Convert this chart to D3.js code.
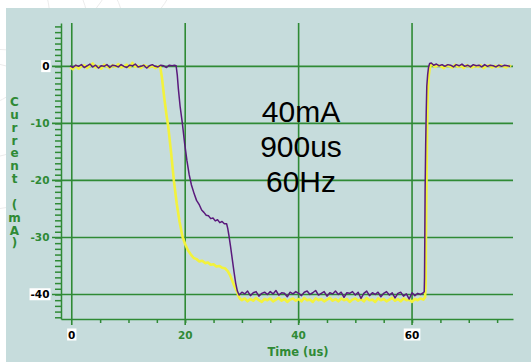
<!DOCTYPE html>
<html>
<head>
<meta charset="utf-8">
<script src="https://cdn.jsdelivr.net/npm/d3@7"></script>
<style>
  body { margin: 0; background: #ffffff; }
  svg { display: block; }
</style>
</head>
<body>
<svg id="chart" width="531" height="362"></svg>
<script>
// ---- chart values ----
const xMajorTicks = [0, 20, 40, 60];
const yMajorTicks = [0, -10, -20, -30, -40];
const xBoxedLabels = [0, 60];     // tick labels printed black on a white box
const yBoxedLabels = [0, -40];
const annotationLines = ["40mA", "900us", "60Hz"];
const yTitle = "Current (mA)";
const xTitle = "Time (us)";

// Channel traces, [time in us, current in mA]
const yellowTrace = [
  [-0.3,-0.2],[0.2,-0.5],[0.7,0.1],[1.2,-0.4],[1.7,0.0],[2.2,0.2],[2.7,-0.3],[3.2,0.1],[3.7,0.5],[4.2,-0.2],
  [4.7,0.0],[5.2,-0.4],[5.7,0.3],[6.2,0.0],[6.7,-0.3],[7.2,0.2],[7.7,-0.1],[8.2,0.4],[8.7,-0.2],[9.2,0.0],
  [9.7,0.3],[10.2,-0.2],[10.7,0.6],[11.2,-0.1],[11.7,0.1],[12.2,-0.3],[12.7,0.2],[13.2,0.0],[13.7,-0.2],[14.2,0.1],
  [14.7,-0.3],[15.2,0.0],[15.6,-0.1],
  [15.9,-2.0],[16.3,-5.5],[16.7,-8.5],[17.0,-10.5],[17.5,-15.0],[18.0,-20.0],[18.5,-24.0],[19.0,-27.2],[19.5,-29.8],
  [20.0,-31.2],[20.5,-32.3],[21.0,-33.0],[21.5,-33.6],[22.0,-33.8],[22.5,-34.2],[23.0,-34.1],[23.5,-34.5],[24.0,-34.4],
  [24.5,-34.8],[25.0,-34.7],[25.5,-35.1],[26.0,-35.0],[26.5,-35.3],[27.0,-35.4],[27.5,-35.9],[27.9,-36.6],[28.3,-37.6],
  [28.7,-38.6],[29.1,-39.4],[29.4,-40.3],[29.7,-40.8],
  [30.0,-41.0],[30.5,-40.7],[31.0,-41.2],[31.5,-40.8],[32.0,-41.1],[32.5,-40.6],[33.0,-41.0],[33.5,-41.3],[34.0,-40.8],
  [34.5,-41.0],[35.0,-40.7],[35.5,-41.2],[36.0,-40.9],[36.5,-40.6],[37.0,-41.1],[37.5,-40.8],[38.0,-41.3],[38.5,-40.9],
  [39.0,-40.7],[39.5,-41.1],[40.0,-40.8],[40.5,-41.2],[41.0,-40.6],[41.5,-41.0],[42.0,-40.9],[42.5,-41.3],[43.0,-40.7],
  [43.5,-41.0],[44.0,-40.8],[44.5,-41.2],[45.0,-40.9],[45.5,-40.6],[46.0,-41.1],[46.5,-40.8],[47.0,-41.2],[47.5,-40.7],
  [48.0,-41.0],[48.5,-40.8],[49.0,-41.3],[49.5,-40.9],[50.0,-40.7],[50.5,-41.1],[51.0,-40.8],[51.5,-41.2],[52.0,-40.6],
  [52.5,-41.0],[53.0,-40.9],[53.5,-41.3],[54.0,-40.7],[54.5,-41.0],[55.0,-40.8],[55.5,-41.2],[56.0,-40.9],[56.5,-40.6],
  [57.0,-41.1],[57.5,-40.8],[58.0,-41.2],[58.5,-40.7],[59.0,-41.0],[59.5,-40.9],[60.0,-41.3],[60.5,-40.8],[61.0,-41.0],
  [61.5,-40.7],[62.0,-40.9],
  [62.3,-40.5],[62.4,-38.0],[62.45,-30.0],[62.55,-20.0],[62.65,-11.0],[62.75,-5.0],[62.9,-2.0],[63.1,-0.5],[63.3,0.2],
  [63.6,0.3],[64.1,-0.1],[64.6,0.2],[65.1,0.0],[65.6,-0.3],[66.1,0.2],[66.6,0.0],[67.1,-0.2],[67.6,0.3],[68.1,-0.1],
  [68.6,0.1],[69.1,-0.3],[69.6,0.2],[70.1,0.0],[70.6,-0.2],[71.1,0.1],[71.6,-0.1],[72.1,0.2],[72.6,-0.3],[73.1,0.0],
  [73.6,0.2],[74.1,-0.2],[74.6,0.1],[75.1,-0.1],[75.6,0.2],[76.1,0.0],[76.6,-0.2],[77.1,0.1],[77.5,0.0]
];

const purpleTrace = [
  [-0.3,0.1],[0.2,-0.2],[0.7,0.2],[1.2,0.0],[1.7,0.3],[2.2,-0.2],[2.7,0.1],[3.2,0.4],[3.7,-0.1],[4.2,0.2],
  [4.7,-0.3],[5.2,0.1],[5.7,0.0],[6.2,0.3],[6.7,-0.2],[7.2,0.2],[7.7,0.1],[8.2,-0.1],[8.7,0.3],[9.2,0.0],
  [9.7,-0.2],[10.2,0.2],[10.7,0.1],[11.2,0.4],[11.7,-0.1],[12.2,0.0],[12.7,0.2],[13.2,-0.3],[13.7,0.1],[14.2,0.3],
  [14.7,0.0],[15.2,-0.1],[15.7,0.2],[16.2,0.1],[16.7,-0.2],[17.2,0.2],[17.7,0.1],[18.1,0.2],
  [18.4,0.1],[18.6,-1.5],[18.8,-4.0],[19.1,-7.0],[19.5,-10.0],[19.9,-13.5],[20.3,-16.5],[20.7,-19.0],[21.1,-20.8],
  [21.6,-22.4],[22.0,-23.5],[22.5,-24.3],[22.9,-25.2],[23.3,-25.6],[23.7,-26.1],[24.1,-26.2],[24.5,-26.7],[24.9,-26.6],
  [25.3,-27.1],[25.7,-26.9],[26.1,-27.4],[26.5,-27.2],[26.9,-27.6],[27.3,-27.6],[27.5,-28.4],[27.7,-29.6],[28.0,-31.6],
  [28.3,-33.8],[28.6,-36.0],[28.9,-38.0],[29.2,-39.4],[29.5,-40.1],
  [30.0,-39.6],[30.5,-39.9],[31.0,-39.4],[31.5,-40.2],[32.0,-39.7],[32.5,-39.5],[33.0,-40.3],[33.5,-39.8],[34.0,-39.6],
  [34.5,-40.0],[35.0,-39.5],[35.5,-39.9],[36.0,-39.3],[36.5,-40.1],[37.0,-39.7],[37.5,-39.8],[38.0,-40.4],[38.5,-39.6],
  [39.0,-39.9],[39.5,-39.5],[40.0,-39.8],[40.5,-40.2],[41.0,-39.6],[41.5,-39.4],[42.0,-40.0],[42.5,-39.7],[43.0,-39.3],
  [43.5,-40.1],[44.0,-39.8],[44.5,-39.5],[45.0,-40.3],[45.5,-39.7],[46.0,-39.9],[46.5,-39.4],[47.0,-40.0],[47.5,-39.6],
  [48.0,-40.5],[48.5,-39.7],[49.0,-39.8],[49.5,-39.5],[50.0,-40.1],[50.5,-39.6],[51.0,-40.7],[51.5,-39.8],[52.0,-39.4],
  [52.5,-40.2],[53.0,-39.7],[53.5,-40.0],[54.0,-39.6],[54.5,-40.4],[55.0,-39.8],[55.5,-39.5],[56.0,-40.1],[56.5,-39.7],
  [57.0,-40.6],[57.5,-39.8],[58.0,-39.6],[58.5,-40.3],[59.0,-39.9],[59.5,-40.8],[60.0,-39.7],[60.5,-40.2],[61.0,-39.8],
  [61.5,-40.0],[62.0,-39.7],
  [62.15,-39.5],[62.2,-37.0],[62.25,-30.0],[62.3,-22.0],[62.4,-14.0],[62.5,-8.0],[62.6,-3.5],[62.75,-1.5],[62.9,-0.2],
  [63.1,0.5],[63.4,0.6],
  [63.8,0.2],[64.3,0.4],[64.8,0.1],[65.3,0.3],[65.8,0.0],[66.3,0.3],[66.8,0.2],[67.3,-0.1],[67.8,0.3],[68.3,0.1],
  [68.8,0.4],[69.3,0.0],[69.8,0.2],[70.3,-0.1],[70.8,0.3],[71.3,0.1],[71.8,0.2],[72.3,-0.1],[72.8,0.3],[73.3,0.0],
  [73.8,0.2],[74.3,0.1],[74.8,-0.1],[75.3,0.2],[75.8,0.0],[76.3,0.2],[76.8,0.1],[77.3,0.0]
];

// ---- drawing ----
const W = 531, H = 362;
const GREEN = "#2f8a35";
const svg = d3.select("#chart");

// faint background swirls on the page
const swirl = svg.append("g").attr("fill", "none").attr("stroke", "#ececec").attr("stroke-width", 1);
[[-40, 20, 90], [-30, 40, 120], [-20, 60, 150], [10, -60, 110], [40, -80, 150]].forEach(([cx, cy, r]) => {
  swirl.append("circle").attr("cx", cx).attr("cy", cy).attr("r", r);
});

// instrument panel
svg.append("rect").attr("x", 6).attr("y", 8).attr("width", W - 6).attr("height", H - 8).attr("fill", "#c6dcdc");

const x = d3.scaleLinear().domain([-1.9, 77.8]).range([61, 513]);
const y = d3.scaleLinear().domain([-44.3, 7.6]).range([319, 23]);

// minor ticks + axis lines
const yAxis = d3.axisLeft(y).tickValues(d3.range(-44, 8)).tickSize(6).tickSizeOuter(0).tickFormat("");
const xAxis = d3.axisBottom(x).tickValues(d3.range(5, 78, 5)).tickSize(4).tickSizeOuter(0).tickFormat("");

const gy = svg.append("g").attr("transform", `translate(${x.range()[0]},0)`).call(yAxis);
const gx = svg.append("g").attr("transform", `translate(0,${y.range()[0]})`).call(xAxis);
[gy, gx].forEach(g => {
  g.selectAll("path, line").attr("stroke", GREEN).attr("stroke-width", 1.5);
});

// grid lines
const grid = svg.append("g").attr("stroke", GREEN).attr("stroke-width", 1.6);
grid.selectAll("line.h").data(yMajorTicks).join("line")
  .attr("x1", x.range()[0] - 9).attr("x2", x.range()[1])
  .attr("y1", d => y(d)).attr("y2", d => y(d));
grid.selectAll("line.v").data(xMajorTicks).join("line")
  .attr("x1", d => x(d)).attr("x2", d => x(d))
  .attr("y1", y.range()[1]).attr("y2", y.range()[0] + 6);

// traces
const line = d3.line().x(d => x(d[0])).y(d => y(d[1]));
svg.append("path").datum(yellowTrace).attr("d", line)
  .attr("fill", "none").attr("stroke", "#f2f23c").attr("stroke-width", 2.6).attr("stroke-linejoin", "round");
svg.append("path").datum(purpleTrace).attr("d", line)
  .attr("fill", "none").attr("stroke", "#5a1a7c").attr("stroke-width", 1.5).attr("stroke-linejoin", "round");

// tick labels
const labelFont = "'DejaVu Sans', Verdana, sans-serif";
function boxedLabel(g, boxed) {
  if (!boxed) return;
  const bb = g.select("text").node().getBBox();
  g.insert("rect", "text").attr("x", bb.x - 1).attr("y", bb.y).attr("width", bb.width + 2).attr("height", bb.height)
    .attr("fill", "#ffffff");
}
yMajorTicks.forEach(v => {
  const boxed = yBoxedLabels.includes(v);
  const g = svg.append("g");
  g.append("text").attr("x", 49.5).attr("y", y(v)).attr("dy", "0.36em")
    .attr("text-anchor", "end").attr("font-family", labelFont).attr("font-weight", "bold")
    .attr("font-size", 10.5).attr("fill", boxed ? "#000" : GREEN).text(v);
  boxedLabel(g, boxed);
});
xMajorTicks.forEach(v => {
  const boxed = xBoxedLabels.includes(v);
  const g = svg.append("g");
  g.append("text").attr("x", x(v)).attr("y", 338.5)
    .attr("text-anchor", "middle").attr("font-family", labelFont).attr("font-weight", "bold")
    .attr("font-size", 10.5).attr("fill", boxed ? "#000" : GREEN).text(v);
  boxedLabel(g, boxed);
});

// axis titles
svg.append("text").attr("x", 298).attr("y", 356).attr("text-anchor", "middle")
  .attr("font-family", labelFont).attr("font-weight", "bold").attr("font-size", 11.5)
  .attr("fill", GREEN).text(xTitle);

svg.append("g").selectAll("text").data(yTitle.split("")).join("text")
  .attr("x", 14.5).attr("y", (d, i) => 101.7 + i * 12.85).attr("dy", "0.36em")
  .attr("text-anchor", "middle").attr("font-family", labelFont).attr("font-weight", "bold")
  .attr("font-size", 12).attr("fill", GREEN).text(d => d);

// pulse annotation
svg.append("g").selectAll("text").data(annotationLines).join("text")
  .attr("x", 301).attr("y", (d, i) => 122 + i * 35).attr("text-anchor", "middle")
  .attr("font-family", "'Liberation Sans', Arial, sans-serif").attr("font-size", 30)
  .attr("fill", "#000").text(d => d);
</script>
</body>
</html>
